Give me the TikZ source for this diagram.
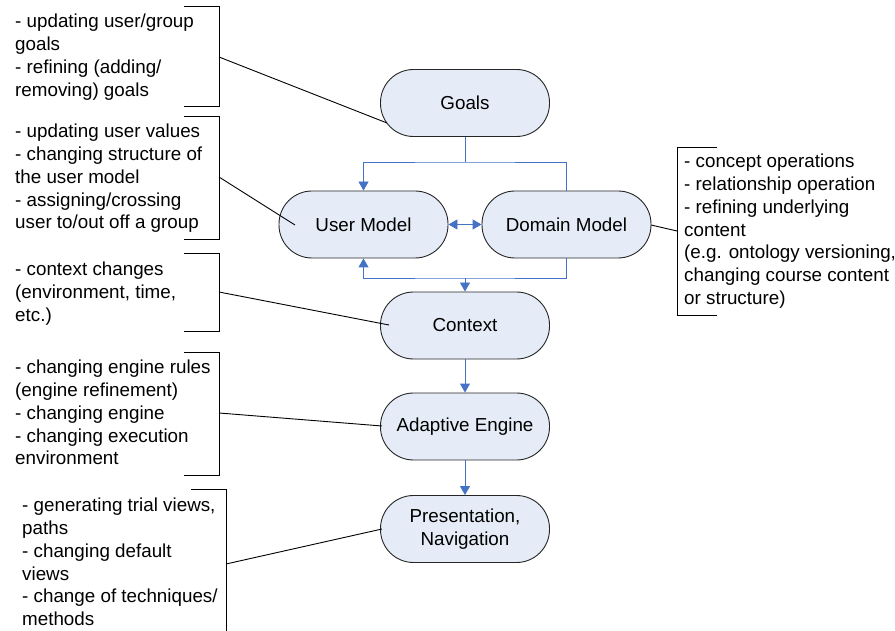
\documentclass[tikz,border=0pt]{standalone}
\usepackage{fontspec}
\setmainfont{Liberation Sans}
\usetikzlibrary{arrows.meta}
\definecolor{nodefill}{RGB}{230,236,247}
\definecolor{flowblue}{RGB}{68,114,196}
\begin{document}
\begin{tikzpicture}[x=1pt,y=-1pt,
  txt/.style={font=\fontsize{18.8}{22.9}\selectfont},
  proc/.style={draw=black!85,line width=0.9pt,fill=nodefill,minimum width=169pt,minimum height=67pt,rounded corners=33pt,align=center,inner sep=0pt,txt},
  flow/.style={draw=flowblue,line width=0.9pt},
  tip/.style={-{Triangle[length=9pt,width=10pt]}},
  brk/.style={draw=black,line width=0.9pt},
  note/.style={txt,anchor=north west,align=left,inner sep=0pt}]
\useasboundingbox (0,0) rectangle (895,631);

% process nodes
\node[proc] (goals) at (465,103) {Goals};
\node[proc] (um) at (363.5,224.5) {User Model};
\node[proc] (dm) at (566.5,224.5) {Domain Model};
\node[proc] (ctx) at (465,325.5) {Context};
\node[proc] (ae) at (465,426.5) {Adaptive Engine};
\node[proc] (pn) at (465,529) {Presentation,\\Navigation};

% blue flow connectors
\coordinate (j1) at (465,162);
\coordinate (j2) at (465,278);
\draw[flow] (goals.south) -- (j1);
\draw[flow,tip] (dm.north) |- (j1) -| (um.north);
\draw[flow,tip] (dm.south) |- (j2) -| (um.south);
\draw[flow,tip] (j2) -- (ctx.north);
\draw[flow,{Triangle[length=9pt,width=10pt]}-{Triangle[length=9pt,width=10pt]}] (um.east) -- (dm.west);
\draw[flow,tip] (ctx.south) -- (ae.north);
\draw[flow,tip] (ae.south) -- (pn.north);

% notes
\node[note] (n1) at (15,13.5) {- updating user/group\\goals\\- refining (adding/\\removing) goals};
\node[note] (n2) at (15,123.5) {- updating user values\\- changing structure of\\the user model\\- assigning/crossing\\user to/out off a group};
\node[note] (n3) at (15,261.5) {- context changes\\(environment, time,\\etc.)};
\node[note] (n4) at (15,359.5) {- changing engine rules\\(engine refinement)\\- changing engine\\- changing execution\\environment};
\node[note] (n5) at (22,497.5) {- generating trial views,\\paths\\- changing default\\views\\- change of techniques/\\methods};
\node[note] (n6) at (684,153.5) {- concept operations\\- relationship operation\\- refining underlying\\content\\(e.g. ontology versioning,\\changing course content\\or structure)};

% brackets
\draw[brk] (184,6) -- (219,6) -- (219,106) -- (184,106);
\draw[brk] (184,116) -- (219,116) -- (219,239) -- (184,239);
\draw[brk] (184,253) -- (219,253) -- (219,331) -- (184,331);
\draw[brk] (184,352) -- (219,352) -- (219,475) -- (184,475);
\draw[brk] (191,489) -- (226,489) -- (226,640);
\draw[brk] (717,147) -- (677,147) -- (677,315) -- (717,315);

% bracket connectors
\coordinate (b1) at (219,57);   \coordinate (g1) at (387,123);
\coordinate (b2) at (219,177);  \coordinate (g2) at (295,225);
\coordinate (b3) at (219,292);  \coordinate (g3) at (389,325);
\coordinate (b4) at (219,413);  \coordinate (g4) at (382,426);
\coordinate (b5) at (226,564);  \coordinate (g5) at (382,529);
\coordinate (b6) at (677,231);  \coordinate (g6) at (651,225);
\draw[brk] (b1) -- (g1);
\draw[brk] (b2) -- (g2);
\draw[brk] (b3) -- (g3);
\draw[brk] (b4) -- (g4);
\draw[brk] (b5) -- (g5);
\draw[brk] (b6) -- (g6);
\end{tikzpicture}
\end{document}
